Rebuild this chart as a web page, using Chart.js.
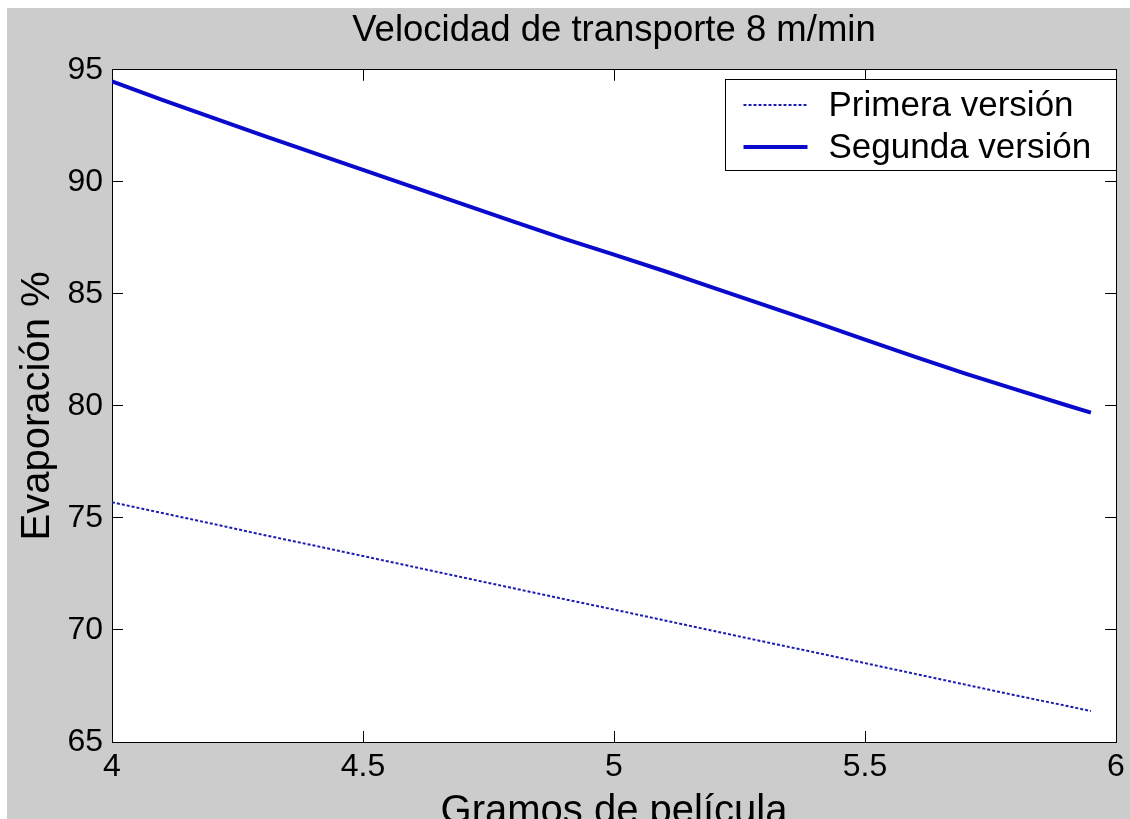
<!DOCTYPE html>
<html>
<head>
<meta charset="utf-8">
<script src="https://cdn.jsdelivr.net/npm/chart.js@4.4.0/dist/chart.umd.min.js"></script>
<style>
  html, body { margin: 0; padding: 0; background: #ffffff; overflow: hidden; width: 1130px; height: 819px; }
  #wrap { position: absolute; left: 7px; top: 8px; width: 1123px; height: 840px; }
  canvas { display: block; }
</style>
</head>
<body>
<div id="wrap"><canvas id="chart" width="1123" height="840"></canvas></div>
<script>
// Texts
const titleText = 'Velocidad de transporte 8 m/min';
const xTitle = 'Gramos de película';
const yTitle = 'Evaporación %';
const seriesNames = ['Primera versión', 'Segunda versión'];

// Film grams (x) and evaporation (%) for both versions
const gramos   = [4.0, 4.1, 4.2, 4.3, 4.4, 4.5, 4.6, 4.7, 4.8, 4.9, 5.0, 5.1, 5.2, 5.3, 5.4, 5.5, 5.6, 5.7, 5.8, 5.9, 5.95];
const primera  = [75.70, 75.22, 74.74, 74.25, 73.78, 73.30, 72.82, 72.34, 71.86, 71.38, 70.91, 70.43, 69.95, 69.47, 69.00, 68.52, 68.04, 67.56, 67.08, 66.62, 66.38];
const segunda  = [94.48, 93.66, 92.87, 92.07, 91.30, 90.53, 89.76, 88.99, 88.22, 87.47, 86.75, 86.02, 85.26, 84.50, 83.74, 82.96, 82.19, 81.44, 80.74, 80.04, 79.70];

// Axis ticks
const xTickValues = [4, 4.5, 5, 5.5, 6];
const xTickLabels = ['4', '4.5', '5', '5.5', '6'];
const yTickValues = [65, 70, 75, 80, 85, 90, 95];
const yTickLabels = ['65', '70', '75', '80', '85', '90', '95'];

const FONT = "'Liberation Sans', Arial, Helvetica, sans-serif";
Chart.defaults.font.family = FONT;
Chart.defaults.color = '#000000';

const toPoints = (xs, ys) => xs.map((x, i) => ({ x: x, y: ys[i] }));

// Figure background grey, axes area white
const figureBackground = {
  id: 'figureBackground',
  beforeDraw(chart) {
    const { ctx, chartArea: a, width, height } = chart;
    ctx.save();
    ctx.fillStyle = '#cccccc';
    ctx.fillRect(0, 0, width, height);
    ctx.fillStyle = '#ffffff';
    ctx.fillRect(a.left, a.top, a.right - a.left, a.bottom - a.top);
    ctx.restore();
  }
};

// Boxed legend in the upper right corner of the axes
const boxLegend = {
  id: 'boxLegend',
  afterDraw(chart, args, o) {
    const { ctx, chartArea: a } = chart;
    const x0 = Math.round(a.right - o.width) + 0.5;
    const y0 = Math.round(a.top + o.offsetY) + 0.5;
    ctx.save();
    ctx.fillStyle = '#ffffff';
    ctx.fillRect(x0, y0, o.width, o.height);
    ctx.strokeStyle = '#000000';
    ctx.lineWidth = 1;
    ctx.strokeRect(x0, y0, o.width, o.height);
    chart.data.datasets.forEach((ds, i) => {
      const y = Math.round(y0 + o.firstRow + i * o.rowGap);
      ctx.strokeStyle = ds.borderColor;
      ctx.lineWidth = ds.borderWidth;
      ctx.setLineDash(ds.borderDash || []);
      ctx.beginPath();
      ctx.moveTo(x0 + o.sampleStart, y);
      ctx.lineTo(x0 + o.sampleEnd, y);
      ctx.stroke();
      ctx.setLineDash([]);
      ctx.fillStyle = '#000000';
      ctx.font = o.fontSize + 'px ' + FONT;
      ctx.textAlign = 'left';
      ctx.textBaseline = 'middle';
      ctx.fillText(ds.label, x0 + o.textX, y + 1);
    });
    ctx.restore();
  }
};

const setTicks = (values) => (scale) => { scale.ticks = values.map(v => ({ value: v })); };
const inwardGrid = { drawOnChartArea: false, drawTicks: true, tickLength: -11, color: '#000000', lineWidth: 1 };
const axisBorder = { display: true, color: '#000000', width: 1 };

new Chart(document.getElementById('chart'), {
  type: 'line',
  data: {
    datasets: [
      {
        label: seriesNames[0],
        data: toPoints(gramos, primera),
        borderColor: '#1c1cb0',
        borderWidth: 2,
        borderDash: [3, 2],
        pointRadius: 0,
        tension: 0,
        fill: false
      },
      {
        label: seriesNames[1],
        data: toPoints(gramos, segunda),
        borderColor: '#0a0acc',
        borderWidth: 4,
        pointRadius: 0,
        tension: 0,
        fill: false
      }
    ]
  },
  options: {
    responsive: false,
    animation: false,
    devicePixelRatio: 1,
    layout: { padding: { left: 0, right: 14, top: 0, bottom: 0 } },
    scales: {
      x: {
        type: 'linear', position: 'bottom', min: 4, max: 6,
        afterBuildTicks: setTicks(xTickValues),
        afterFit: (s) => { s.height = 106; s.paddingLeft = 0; s.paddingRight = 0; },
        ticks: {
          callback: (v) => xTickLabels[xTickValues.indexOf(v)],
          font: { size: 32 }, color: '#000000', padding: 17, maxRotation: 0, autoSkip: false
        },
        grid: inwardGrid,
        border: axisBorder,
        title: { display: true, text: xTitle, font: { size: 40 }, color: '#000000', padding: { top: 0, bottom: 12 } }
      },
      x2: {
        type: 'linear', position: 'top', min: 4, max: 6,
        afterBuildTicks: setTicks(xTickValues),
        afterFit: (s) => { s.height = 0; s.paddingLeft = 0; s.paddingRight = 0; },
        ticks: { display: false },
        grid: inwardGrid,
        border: axisBorder
      },
      y: {
        type: 'linear', position: 'left', min: 65, max: 95,
        afterBuildTicks: setTicks(yTickValues),
        afterFit: (s) => { s.width = 105; },
        ticks: {
          callback: (v) => yTickLabels[yTickValues.indexOf(v)],
          font: { size: 32 }, color: '#000000', padding: 20, autoSkip: false
        },
        grid: inwardGrid,
        border: axisBorder,
        title: { display: true, text: yTitle, font: { size: 40 }, color: '#000000', padding: { top: 7, bottom: 0 } }
      },
      y2: {
        type: 'linear', position: 'right', min: 65, max: 95,
        afterBuildTicks: setTicks(yTickValues),
        afterFit: (s) => { s.width = 0; },
        ticks: { display: false },
        grid: inwardGrid,
        border: axisBorder
      }
    },
    plugins: {
      legend: { display: false },
      tooltip: { enabled: false },
      title: {
        display: true, text: titleText, fullSize: false,
        font: { size: 36.5, weight: 'normal' }, color: '#000000',
        padding: { top: 1, bottom: 17 }
      },
      boxLegend: {
        width: 391, height: 91, offsetY: 9,
        firstRow: 25, rowGap: 42,
        sampleStart: 18, sampleEnd: 82, textX: 103, fontSize: 35
      }
    }
  },
  plugins: [figureBackground, boxLegend]
});
</script>
</body>
</html>
